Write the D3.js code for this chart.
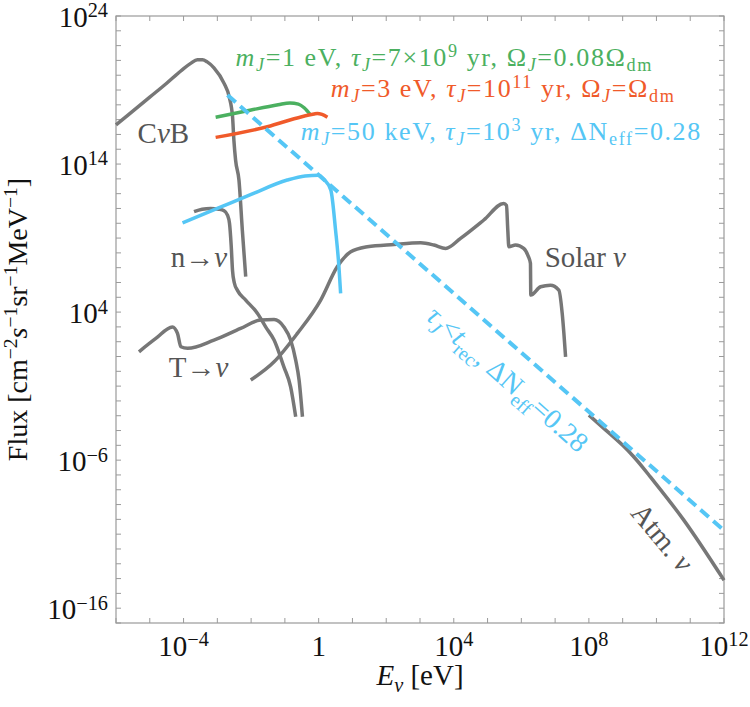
<!DOCTYPE html>
<html>
<head>
<meta charset="utf-8">
<script src="https://cdn.jsdelivr.net/npm/d3@7"></script>
<style>
  body { margin: 0; background: #fff; }
  text { font-family: "Liberation Serif", "DejaVu Serif", serif; }
</style>
</head>
<body>
<svg id="chart" width="750" height="707"></svg>
<script>
// all curves as [log10(E/eV), log10(flux)]
const cnbLog = [[-6, 16.64], [-5, 18.52], [-4.5, 19.46], [-4.05, 20.35], [-3.79, 20.8], [-3.59, 21.05],
  [-3.44, 21.05], [-3.3, 20.9], [-3.1, 20.5], [-2.8, 19.45], [-2.65, 18.55], [-2.55, 17.2],
  [-2.51, 15.62], [-2.46, 14.27], [-2.36, 12.92], [-2.26, 9.54], [-2.16, 6.39]];
const nLog = [[-3.69, 10.78], [-3.45, 10.95], [-3.2, 11.0], [-2.95, 10.95], [-2.8, 10.85], [-2.7, 10.55],
  [-2.64, 10.0], [-2.59, 8.5], [-2.55, 6.8], [-2.5, 6.0], [-2.4, 5.45], [-2.16, 4.81], [-1.81, 3.91],
  [-1.57, 3.0], [-1.32, 2.11], [-1.03, 0.3], [-0.83, -1.05], [-0.68, -3.07]];
const tLog = [[-5.32, 1.32], [-4.82, 2.22], [-4.33, 3.0], [-4.18, 2.56], [-4.08, 1.66], [-3.88, 1.55],
  [-3.1, 2.11], [-2.31, 2.9], [-1.72, 3.46], [-1.32, 3.5], [-1.03, 3.0], [-0.83, 2.11], [-0.68, 0.76],
  [-0.58, -0.59], [-0.48, -3.07]];
const solarLog = [[-2.01, -0.59], [-1.32, 0.64], [-0.63, 2.56], [0.06, 4.81], [0.55, 7.06], [0.95, 8.07],
  [1.44, 8.41], [2.23, 8.57], [3.02, 8.68], [3.41, 8.53], [3.76, 8.3], [4.2, 8.98], [4.89, 10.22],
  [5.48, 11.34], [5.56, 11.2], [5.6, 9.5], [5.63, 8.41], [5.83, 8.53], [6.07, 8.3], [6.2, 7.8],
  [6.27, 7.29], [6.28, 5.15], [6.57, 5.71], [6.86, 5.82], [7.11, 5.49], [7.21, 3.91], [7.26, 2.56],
  [7.31, 0.98]];
const atmLog = [[8.0, -2.96], [8.5, -3.97], [9.0, -5.0], [9.3, -5.7], [9.6, -6.5], [9.82, -7.13],
  [10.81, -10.05], [12, -14.11]];
const m1Log = [[-3.05, 17.16], [-2.0, 17.65], [-1.2, 18.0], [-0.85, 18.13], [-0.6, 18.05], [-0.43, 17.8], [-0.24, 17.31]];
const m3Log = [[-3.05, 15.8], [-1.52, 16.52], [-0.5, 17.2], [-0.14, 17.38], [-0.04, 17.42], [0.1, 17.35], [0.26, 17.16]];
const m50Log = [[-4.03, 10.03], [-3, 11.0], [-2, 11.95], [-0.93, 12.92], [-0.4, 13.2], [0, 13.25],
  [0.16, 12.95], [0.36, 12.24], [0.5, 9.54], [0.6, 7.06], [0.65, 5.26]];
const boundLog = [[-2.7, 18.66], [12, -10.74]];

const xTickExp = [-4, 0, 4, 8, 12];
const yTickExp = [24, 14, 4, -6, -16];

const gray = "#777777", textGray = "#555555";
const green = "#4bb060", orange = "#f05a2a", blue = "#55c6f5";

var margin = { top: 16, right: 26, bottom: 84, left: 116 };
var width = 750 - margin.left - margin.right,
    height = 707 - margin.top - margin.bottom;

var svg = d3.select("#chart");
var g = svg.append("g").attr("transform", "translate(" + margin.left + "," + margin.top + ")");

var x = d3.scaleLog().domain([1e-6, 1e12]).range([0, width]);
var y = d3.scaleLog().domain([1e-17, 1e24]).range([height, 0]);

const px = e => x(Math.pow(10, e));
const py = f => y(Math.pow(10, f));

// rich text: parts are [string, style] where style has i (italic), sub, sup
function rich(sel, parts, fs, supUp, subDown) {
    supUp = supUp || 0.4;
    subDown = subDown || 0.25;
    var t = sel.append("text").style("font-size", fs + "px");
    var shift = 0;
    parts.forEach(p => {
        var s = p[1] || "";
        var target = s.includes("sup") ? -supUp * fs : s.includes("sub") ? subDown * fs : 0;
        t.append("tspan")
            .attr("dy", target - shift)
            .style("font-size", (s.includes("sup") || s.includes("sub") ? 0.7 * fs : fs) + "px")
            .style("font-style", s.includes("i") ? "italic" : "normal")
            .text(p[0]);
        shift = target;
    });
    return t;
}

//////////////////////////////////////////////////////////////////////
// FRAME + TICKS
g.append("rect").attr("width", width).attr("height", height)
    .style("fill", "none").style("stroke", "#9a9a9a").style("stroke-width", 1.2);

var tickLen = 5;
d3.range(-6, 13).forEach(e => {
    g.append("line").attr("x1", px(e)).attr("x2", px(e)).attr("y1", height).attr("y2", height - tickLen)
        .style("stroke", "#9a9a9a");
    g.append("line").attr("x1", px(e)).attr("x2", px(e)).attr("y1", 0).attr("y2", tickLen)
        .style("stroke", "#9a9a9a");
});
d3.range(-17, 25).forEach(e => {
    g.append("line").attr("y1", py(e)).attr("y2", py(e)).attr("x1", 0).attr("x2", tickLen)
        .style("stroke", "#9a9a9a");
    g.append("line").attr("y1", py(e)).attr("y2", py(e)).attr("x1", width).attr("x2", width - tickLen)
        .style("stroke", "#9a9a9a");
});

var tickFs = 29;
xTickExp.forEach(e => {
    var parts = e === 0 ? [["1"]] : [["10"], [String(e).replace("-", "\u2212"), "sup"]];
    rich(g, parts, tickFs, 0.33)
        .attr("x", px(e)).attr("y", height + 33)
        .attr("text-anchor", "middle").style("fill", "#111");
});
yTickExp.forEach(e => {
    rich(g, [["10"], [String(e).replace("-", "\u2212"), "sup"]], tickFs, 0.33)
        .attr("x", -8).attr("y", py(e) + 11)
        .attr("text-anchor", "end").style("fill", "#111");
});

// axis titles
rich(g, [["E", "i"], ["\u03BD", "isub"], [" [eV]"]], 29)
    .attr("x", width / 2).attr("y", height + 62)
    .attr("text-anchor", "middle").style("fill", "#111");

rich(g, [["Flux [cm"], ["\u22122", "sup"], ["s", "i"], ["\u22121", "sup"], ["sr"], ["\u22121", "sup"],
    ["MeV"], ["\u22121", "sup"], ["]"]], 28, 0.36)
    .attr("transform", "translate(" + (-89) + "," + (height / 2) + ") rotate(-90)")
    .attr("text-anchor", "middle").style("fill", "#111");

//////////////////////////////////////////////////////////////////////
// CURVES
var line = d3.line()
    .x(d => px(d[0]))
    .y(d => py(d[1]))
    .curve(d3.curveMonotoneX);

var plot = g.append("g").attr("class", "data");

[cnbLog, nLog, tLog, solarLog, atmLog].forEach(s => {
    plot.append("path").attr("d", line(s))
        .style("fill", "none").style("stroke", gray).style("stroke-width", 3.5)
        .style("stroke-linejoin", "round");
});

[[m1Log, green], [m3Log, orange], [m50Log, blue]].forEach(s => {
    plot.append("path").attr("d", line(s[0]))
        .style("fill", "none").style("stroke", s[1]).style("stroke-width", 3.5);
});

plot.append("path").attr("d", d3.line().x(d => px(d[0])).y(d => py(d[1]))(boundLog))
    .style("fill", "none").style("stroke", blue).style("stroke-width", 4)
    .style("stroke-dasharray", "11,6");

//////////////////////////////////////////////////////////////////////
// LABELS  (positions in log data coords)
var labFs = 29;
function place(t, pos, rot) {
    var tr = "translate(" + px(pos[0]) + "," + py(pos[1]) + ")";
    if (rot) tr += " rotate(" + rot + ")";
    return t.attr("transform", tr);
}

place(rich(g, [["C"], ["\u03BD", "i"], ["B"]], labFs), [-5.36, 15.42]).style("fill", textGray);
place(rich(g, [["n\u2192"], ["\u03BD", "i"]], labFs), [-4.38, 7.04]).style("fill", textGray);
place(rich(g, [["T\u2192"], ["\u03BD", "i"]], labFs), [-4.44, -0.39]).style("fill", textGray);
place(rich(g, [["Solar "], ["\u03BD", "i"]], labFs), [6.69, 7.04]).style("fill", textGray);
place(rich(g, [["Atm. "], ["\u03BD", "i"]], labFs), [9.2, -9.6], 50).style("fill", textGray);

// model annotations: Times-like glyphs, set a little wider as in the figure
var annFs = 26;
place(rich(g, [["m", "i"], ["J", "isub"], ["=1 eV, "], ["\u03C4", "i"], ["J", "isub"], ["=7\u00D710"], ["9", "sup"],
    [" yr, \u03A9"], ["J", "isub"], ["=0.08\u03A9"], ["dm", "sub"]], annFs, 0.33, 0.2), [-2.46, 20.62])
    .style("fill", green).style("letter-spacing", "1.6px");
place(rich(g, [["m", "i"], ["J", "isub"], ["=3 eV, "], ["\u03C4", "i"], ["J", "isub"], ["=10"], ["11", "sup"],
    [" yr, \u03A9"], ["J", "isub"], ["=\u03A9"], ["dm", "sub"]], annFs, 0.33, 0.2), [0.36, 18.53])
    .style("fill", orange).style("letter-spacing", "1.6px");
place(rich(g, [["m", "i"], ["J", "isub"], ["=50 keV, "], ["\u03C4", "i"], ["J", "isub"], ["=10"], ["3", "sup"],
    [" yr, \u0394N"], ["eff", "sub"], ["=0.28"]], annFs, 0.33, 0.2), [-0.53, 15.62])
    .style("fill", blue).style("letter-spacing", "1.6px");
place(rich(g, [["\u03C4", "i"], ["J", "isub"], ["<"], ["t", "i"], ["rec", "sub"], [", \u0394N"], ["eff", "sub"], ["=0.28"]], 28),
    [3.14, 3.59], 41.5).style("fill", blue);
</script>
</body>
</html>
